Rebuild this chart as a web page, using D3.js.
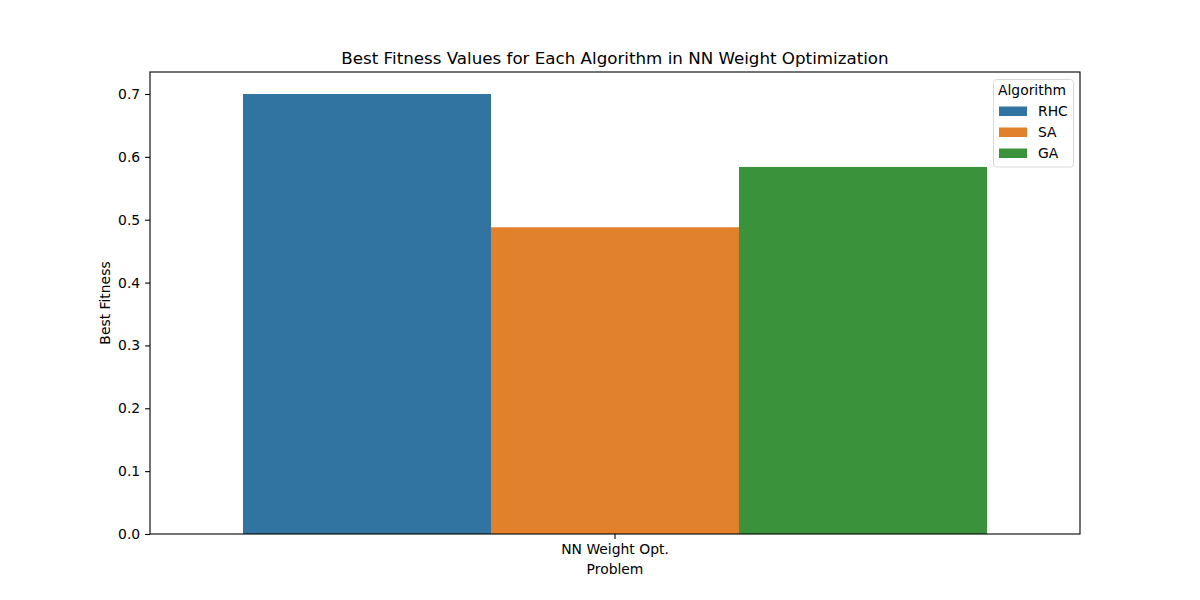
<!DOCTYPE html>
<html><head><meta charset="utf-8">
<script src="https://cdn.jsdelivr.net/npm/d3@7"></script>
<style>body{margin:0;background:#fff}svg,svg text{font-family:"DejaVu Sans",sans-serif}</style>
</head><body>
<svg id="c" width="1200" height="600"></svg>
<script>
const categories = ["NN Weight Opt."];
const algorithms = ["RHC", "SA", "GA"];
const values = [0.700, 0.488, 0.584];
const colors = ["#3274a1", "#e1812c", "#3a923a"];
const yTicks = [0.0, 0.1, 0.2, 0.3, 0.4, 0.5, 0.6, 0.7];

const svg = d3.select("#c");
const L = 150, R = 1080, T = 72, B = 534;
const x = d3.scaleBand().domain(categories).range([L, R]).paddingInner(0).paddingOuter(0);
const y = d3.scaleLinear().domain([0, 0.735]).range([B, T]);
const xs = d3.scaleBand().domain(algorithms).range([0, x.bandwidth()*0.8]);

const g = svg.append("g");
categories.forEach(c => {
  algorithms.forEach((a, i) => {
    g.append("rect")
      .attr("x", x(c) + x.bandwidth()*0.1 + xs(a))
      .attr("y", y(values[i]))
      .attr("width", xs.bandwidth())
      .attr("height", y(0) - y(values[i]))
      .attr("fill", colors[i]);
  });
});

const fs = "13.9px";
const ff = "DejaVu Sans";
const yAxis = svg.append("g").attr("transform", `translate(${L},0)`)
  .call(d3.axisLeft(y).tickValues(yTicks).tickFormat(d3.format(".1f")).tickSize(4.9).tickPadding(4.9))
  .attr("font-family", ff);
yAxis.selectAll("text").style("font-size", fs).attr("fill", "#000");
yAxis.select(".domain").remove();
const xAxis = svg.append("g").attr("transform", `translate(0,${B})`)
  .call(d3.axisBottom(x).tickSize(4.9).tickPadding(4.9))
  .attr("font-family", ff);
xAxis.selectAll("text").style("font-size", fs).attr("fill", "#000");
xAxis.select(".domain").remove();
svg.selectAll(".tick line").attr("stroke", "#000").attr("stroke-width", 1.1);

svg.append("rect").attr("x", L).attr("y", T).attr("width", R-L).attr("height", B-T)
  .attr("fill", "none").attr("stroke", "#000").attr("stroke-width", 1.1);

svg.append("text").attr("x", (L+R)/2).attr("y", 64).attr("text-anchor", "middle")
  .style("font-size", "16.7px").text("Best Fitness Values for Each Algorithm in NN Weight Optimization");
svg.append("text").attr("x", (L+R)/2).attr("y", 574).attr("text-anchor", "middle")
  .style("font-size", fs).text("Problem");
svg.append("text").attr("transform", `translate(110,${(T+B)/2}) rotate(-90)`).attr("text-anchor", "middle")
  .style("font-size", fs).text("Best Fitness");

// legend
const lg = svg.append("g");
lg.append("rect").attr("x", 993.5).attr("y", 79.5).attr("width", 80).attr("height", 87.5).attr("rx", 3)
  .attr("fill", "#fff").attr("fill-opacity", 0.8).attr("stroke", "#d9d9d9").attr("stroke-width", 1);
lg.append("text").attr("x", 1032).attr("y", 95).attr("text-anchor", "middle").style("font-size", fs).text("Algorithm");
algorithms.forEach((a, i) => {
  const yy = 111 + i*21;
  lg.append("rect").attr("x", 999).attr("y", yy - 4.5).attr("width", 28).attr("height", 9.5).attr("fill", colors[i]);
  lg.append("text").attr("x", 1038).attr("y", yy + 5).style("font-size", fs).text(a);
});
</script>
</body></html>
